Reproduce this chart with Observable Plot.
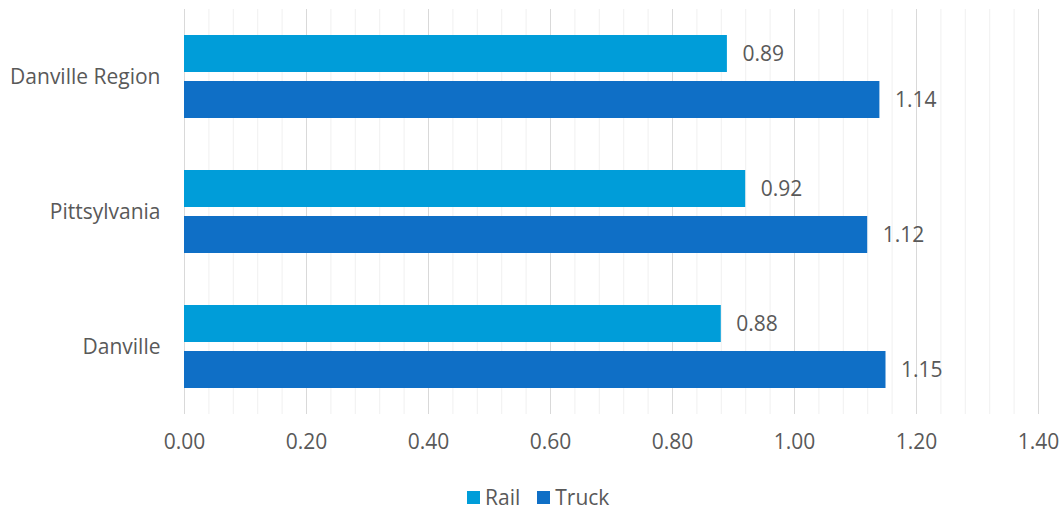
<!DOCTYPE html>
<html>
<head>
<meta charset="utf-8">
<script src="https://cdn.jsdelivr.net/npm/d3@7"></script>
<script src="https://cdn.jsdelivr.net/npm/@observablehq/plot@0.6"></script>
<style>
  html, body { margin: 0; padding: 0; background: #fff; }
  body { width: 1061px; height: 513px; position: relative; font-family: "Open Sans", sans-serif; overflow: hidden; }
  #legend { position: absolute; left: 467px; top: 484px; display: flex; align-items: center; font-size: 21px; color: #595959; line-height: 26px; }
  #legend .sw { width: 13px; height: 13px; display: inline-block; margin-right: 5px; }
  #legend .item { display: flex; align-items: center; margin-right: 17px; }
</style>
</head>
<body>
<div id="chart"></div>
<div id="legend"></div>
<script>
const categories = ["Danville Region", "Pittsylvania", "Danville"];
const series = ["Rail", "Truck"];
const railValues = [0.89, 0.92, 0.88];
const truckValues = [1.14, 1.12, 1.15];
const colors = ["#009DD9", "#0F6FC6"];
const xTicks = [0, 0.2, 0.4, 0.6, 0.8, 1.0, 1.2, 1.4];
const minorTicks = [0.04,0.08,0.12,0.16,0.24,0.28,0.32,0.36,0.44,0.48,0.52,0.56,0.64,0.68,0.72,0.76,0.84,0.88,0.92,0.96,1.04,1.08,1.12,1.16,1.24,1.28,1.32,1.36];

const data = [];
categories.forEach((c, i) => {
  data.push({category: c, series: "Rail", value: railValues[i]});
  data.push({category: c, series: "Truck", value: truckValues[i]});
});

const chart = Plot.plot({
  width: 1061,
  height: 470,
  marginLeft: 184,
  marginRight: 23,
  marginTop: 8,
  marginBottom: 55,
  style: {fontFamily: "Open Sans, sans-serif", fontSize: "21px", color: "#595959", background: "#fff"},
  facet: {data: data, y: "category", marginLeft: 184},
  fy: {domain: categories, padding: 0, label: null, axis: "left", tickSize: 0, tickPadding: 24},
  y: {domain: series, axis: null, paddingInner: 0.19, paddingOuter: 0.54},
  x: {domain: [0, 1.4], ticks: xTicks, tickFormat: d3.format(".2f"), tickSize: 0, tickPadding: 20, label: null, line: false},
  color: {domain: series, range: colors},
  marks: [
    Plot.ruleX(minorTicks, {stroke: "#F0F0F0", strokeWidth: 1}),
    Plot.ruleX(xTicks, {stroke: "#D9D9D9", strokeWidth: 1}),
    Plot.barX(data, {x: "value", y: "series", fill: "series"}),
    Plot.text(data, {x: "value", y: "series", text: d => d3.format(".2f")(d.value), textAnchor: "start", dx: 15, fill: "#595959", fontSize: 21})
  ]
});
document.getElementById("chart").appendChild(chart);

const lg = document.getElementById("legend");
series.forEach((s, i) => {
  const item = document.createElement("span");
  item.className = "item";
  const sw = document.createElement("span");
  sw.className = "sw";
  sw.style.background = colors[i];
  item.appendChild(sw);
  item.appendChild(document.createTextNode(s));
  lg.appendChild(item);
});
</script>
</body>
</html>
